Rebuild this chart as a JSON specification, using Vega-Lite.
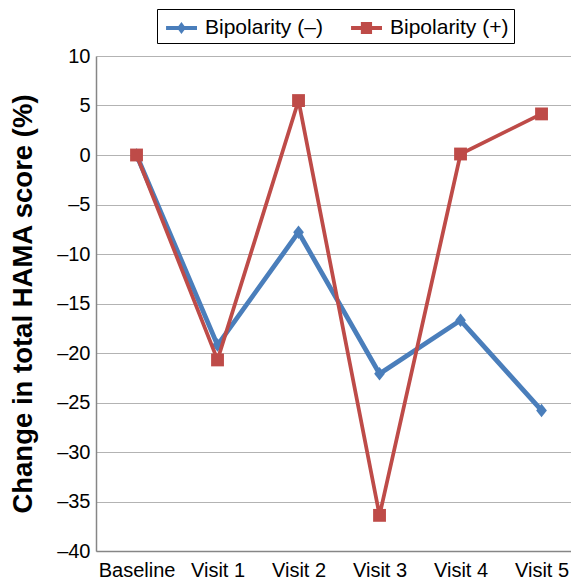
{
  "$schema": "https://vega.github.io/schema/vega-lite/v6.json",
  "width": 475,
  "height": 495,
  "autosize": {"type": "none"},
  "padding": {"left": 96, "top": 56, "right": 0, "bottom": 29},
  "background": "white",
  "config": {
    "font": "Liberation Sans",
    "view": {"stroke": null}
  },
  "data": {
    "values": [
      {"visit": "Baseline", "series": "Bipolarity (–)", "change": 0},
      {"visit": "Visit 1", "series": "Bipolarity (–)", "change": -19.2},
      {"visit": "Visit 2", "series": "Bipolarity (–)", "change": -7.8},
      {"visit": "Visit 3", "series": "Bipolarity (–)", "change": -22.1},
      {"visit": "Visit 4", "series": "Bipolarity (–)", "change": -16.7},
      {"visit": "Visit 5", "series": "Bipolarity (–)", "change": -25.8},
      {"visit": "Baseline", "series": "Bipolarity (+)", "change": 0},
      {"visit": "Visit 1", "series": "Bipolarity (+)", "change": -20.7},
      {"visit": "Visit 2", "series": "Bipolarity (+)", "change": 5.5},
      {"visit": "Visit 3", "series": "Bipolarity (+)", "change": -36.4},
      {"visit": "Visit 4", "series": "Bipolarity (+)", "change": 0.1},
      {"visit": "Visit 5", "series": "Bipolarity (+)", "change": 4.15}
    ]
  },
  "encoding": {
    "x": {
      "field": "visit",
      "type": "ordinal",
      "sort": ["Baseline", "Visit 1", "Visit 2", "Visit 3", "Visit 4", "Visit 5"],
      "scale": {"type": "point", "padding": 0.432, "align": 0.579},
      "axis": {
        "title": null,
        "labelAngle": 0,
        "ticks": false,
        "grid": false,
        "domainColor": "#868686",
        "domainWidth": 1.5,
        "labelFontSize": 20,
        "labelColor": "black",
        "labelPadding": 9
      }
    },
    "y": {
      "field": "change",
      "type": "quantitative",
      "scale": {"domain": [-40, 10], "nice": false, "zero": false},
      "axis": {
        "title": "Change in total HAMA score (%)",
        "titleFontSize": 27.5,
        "titleFontWeight": "bold",
        "titleColor": "black",
        "titlePadding": 19,
        "values": [-40, -35, -30, -25, -20, -15, -10, -5, 0, 5, 10],
        "labelExpr": "datum.value < 0 ? '–' + abs(datum.value) : '' + datum.value",
        "grid": true,
        "gridColor": "#B3B3B3",
        "gridWidth": 1.2,
        "ticks": false,
        "domainColor": "#868686",
        "domainWidth": 1.5,
        "labelFontSize": 20,
        "labelColor": "black",
        "labelPadding": 6
      }
    },
    "color": {
      "field": "series",
      "type": "nominal",
      "scale": {"domain": ["Bipolarity (–)", "Bipolarity (+)"], "range": ["#4A7EBB", "#BE4B48"]},
      "legend": {
        "orient": "none",
        "legendX": 61,
        "legendY": -47,
        "direction": "horizontal",
        "title": null,
        "padding": 5,
        "strokeColor": "black",
        "fillColor": "white",
        "labelFontSize": 21,
        "labelColor": "black",
        "labelOffset": 15,
        "columnPadding": 24,
        "symbolSize": 784,
        "encode": {
          "symbols": {
            "update": {
              "shape": {"signal": "datum.value === 'Bipolarity (–)' ? 'M-0.71,-0.15H1.5V0.15H-0.71Z M0.39,-0.43L0.71,0L0.39,0.43L0.07,0Z' : 'M-0.71,-0.15H1.5V0.15H-0.71Z M-0.01,-0.43H0.79V0.43H-0.01Z'"},
              "size": {"value": 784},
              "fill": {"signal": "datum.value === 'Bipolarity (–)' ? '#4A7EBB' : '#BE4B48'"},
              "stroke": {"value": "transparent"},
              "strokeWidth": {"value": 0},
              "opacity": {"value": 1}
            }
          }
        }
      }
    }
  },
  "layer": [
    {
      "transform": [{"filter": "datum.series === 'Bipolarity (–)'"}],
      "mark": {"type": "line", "strokeWidth": 4.75}
    },
    {
      "transform": [{"filter": "datum.series === 'Bipolarity (–)'"}],
      "mark": {"type": "point", "filled": true, "opacity": 1, "strokeWidth": 0, "shape": "M0,-1L0.8,0L0,1L-0.8,0Z", "size": 180}
    },
    {
      "transform": [{"filter": "datum.series === 'Bipolarity (+)'"}],
      "mark": {"type": "line", "strokeWidth": 3.75}
    },
    {
      "transform": [{"filter": "datum.series === 'Bipolarity (+)'"}],
      "mark": {"type": "point", "filled": true, "opacity": 1, "strokeWidth": 0, "shape": "M-1,-1H1V1H-1Z", "size": 165}
    }
  ]
}
